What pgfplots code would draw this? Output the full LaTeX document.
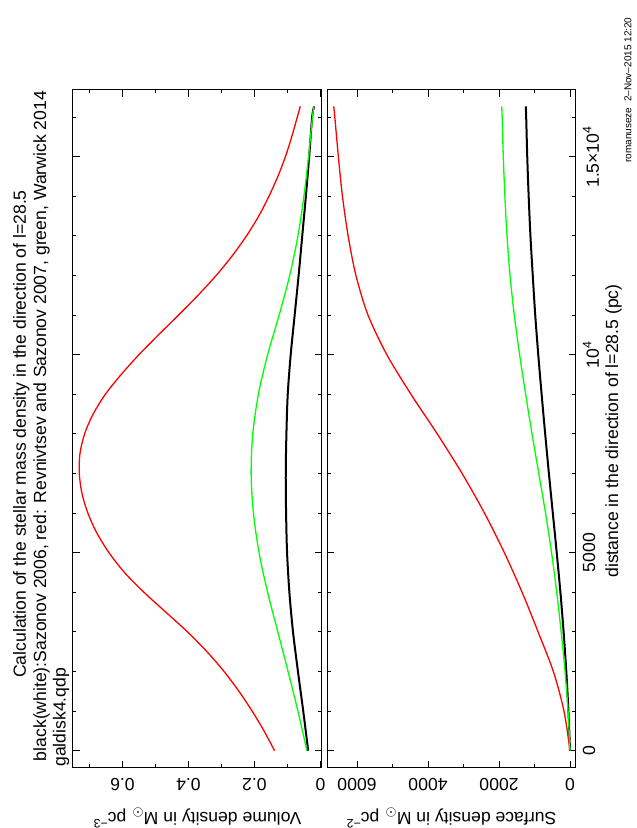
\documentclass[border=0pt]{standalone}
\usepackage{fontspec}
\setmainfont{Liberation Sans}
\usepackage{pgfplots}
\pgfplotsset{compat=1.18}

% 1 px of the reference = 0.5pt
\pgfplotsset{
  qdp/.style={
    scale only axis, height=338.85pt,
    ymin=-430, ymax=16684,
    x dir=reverse, scaled ticks=false,
    axis line style={line width=0.5pt},
    tick align=inside, tick pos=both,
    major tick length=3.5pt, minor tick length=1.75pt,
    every tick/.style={black, line width=0.5pt},
    ytick={0,5000,10000,15000},
    minor ytick={1000,2000,...,16000},
    tick label style={font=\fontsize{8.8}{10}\selectfont},
    xticklabel style={rotate=180, anchor=south},
    xticklabel shift=2pt,
  },
}

\begin{document}
\begin{tikzpicture}
\path[use as bounding box] (0,0) rectangle (318pt,414pt);

% volume density
\begin{axis}[qdp, at={(36.35pt,30.15pt)}, anchor=south west, width=124.5pt,
    xmin=-0.004, xmax=0.751,
    xtick={0,0.2,0.4,0.6}, xticklabels={0,0.2,0.4,0.6},
    minor xtick={0.1,0.3,0.5,0.7},
    yticklabels={}]
\addplot[black, line width=1pt, smooth] coordinates {
  (0.037,0) (0.052,1000) (0.068,2000) (0.083,3000) (0.094,4000) (0.101,5000)
  (0.104,6000) (0.105,7000) (0.103,8000) (0.099,9000) (0.090,10000)
  (0.078,11000) (0.066,12000) (0.055,13000) (0.044,14000) (0.034,15000)
  (0.025,16000) (0.019,16270)
};
\addplot[red, line width=0.65pt, smooth] coordinates {
  (0.139,0) (0.171,500) (0.207,1000) (0.247,1500) (0.292,2000) (0.344,2500)
  (0.403,3000) (0.469,3500) (0.535,4000) (0.594,4500) (0.641,5000)
  (0.678,5500) (0.705,6000) (0.723,6500) (0.731,7000) (0.729,7500)
  (0.715,8000) (0.689,8500) (0.652,9000) (0.604,9500) (0.550,10000)
  (0.491,10500) (0.430,11000) (0.371,11500) (0.316,12000) (0.267,12500)
  (0.224,13000) (0.187,13500) (0.156,14000) (0.129,14500) (0.106,15000)
  (0.087,15500) (0.070,16000) (0.061,16270)
};
\addplot[green, line width=0.65pt, smooth] coordinates {
  (0.041,0) (0.068,1000) (0.098,2000) (0.129,3000) (0.160,4000) (0.186,5000)
  (0.203,6000) (0.210,7000) (0.205,8000) (0.188,9000) (0.160,10000)
  (0.125,11000) (0.093,12000) (0.068,13000) (0.050,14000) (0.036,15000)
  (0.024,16000) (0.020,16270)
};
\end{axis}

% surface density
\begin{axis}[qdp, at={(163.5pt,30.15pt)}, anchor=south west, width=124.35pt,
    xmin=-160, xmax=6845,
    xtick={0,2000,4000,6000}, xticklabels={0,2000,4000,6000},
    minor xtick={1000,3000,5000},
    yticklabel pos=right,
    yticklabels={0,5000,10\textsuperscript{4},1.5×10\textsuperscript{4}},
    yticklabel style={rotate=90, anchor=north}]
\addplot[black, line width=1pt, smooth] coordinates {
  (0,0) (45,1000) (105,2000) (181,3000) (271,4000) (375,5000) (485,6000)
  (595,7000) (700,8000) (800,9000) (895,10000) (980,11000) (1050,12000)
  (1115,13000) (1165,14000) (1205,15000) (1235,16000) (1246,16270)
};
\addplot[red, line width=0.65pt, smooth] coordinates {
  (0,0) (171,1000) (470,2000) (900,3000) (1350,4000) (1850,5000) (2410,6000)
  (3040,7000) (3740,8000) (4480,9000) (5160,10000) (5690,11000) (6030,12000)
  (6250,13000) (6410,14000) (6525,15000) (6625,16000) (6655,16270)
};
\addplot[green, line width=0.65pt, smooth] coordinates {
  (0,0) (55,1000) (140,2000) (250,3000) (375,4000) (520,5000) (690,6000)
  (880,7000) (1070,8000) (1250,9000) (1420,10000) (1570,11000) (1690,12000)
  (1775,13000) (1835,14000) (1880,15000) (1912,16000) (1925,16270)
};
\end{axis}

\begin{scope}[x=0.5pt, y=0.5pt, font=\fontsize{8.8}{10}\selectfont, inner sep=0pt]
\node[rotate=90, anchor=base] at (25.9,394) {Calculation of the stellar mass density in the direction of l=28.5};
\node[rotate=90, anchor=base] at (46,402) {black(white):Sazonov 2006, red: Revnivtsev and Sazonov 2007, green, Warwick 2014};
\node[rotate=90, anchor=base west] at (65.5,61) {galdisk4.qdp};
\node[rotate=90, anchor=base] at (618,397) {distance in the direction of l=28.5 (pc)};
\node[rotate=180, anchor=base] at (197,16) {Volume density in M\textsubscript{$\odot$} pc\textsuperscript{−3}};
\node[rotate=180, anchor=base] at (451,16) {Surface density in M\textsubscript{$\odot$} pc\textsuperscript{−2}};
\node[rotate=90, font=\fontsize{5}{6}\selectfont] at (628,738) {romanuseze\ \ 2–Nov–2015 12:20};
\end{scope}
\end{tikzpicture}
\end{document}
